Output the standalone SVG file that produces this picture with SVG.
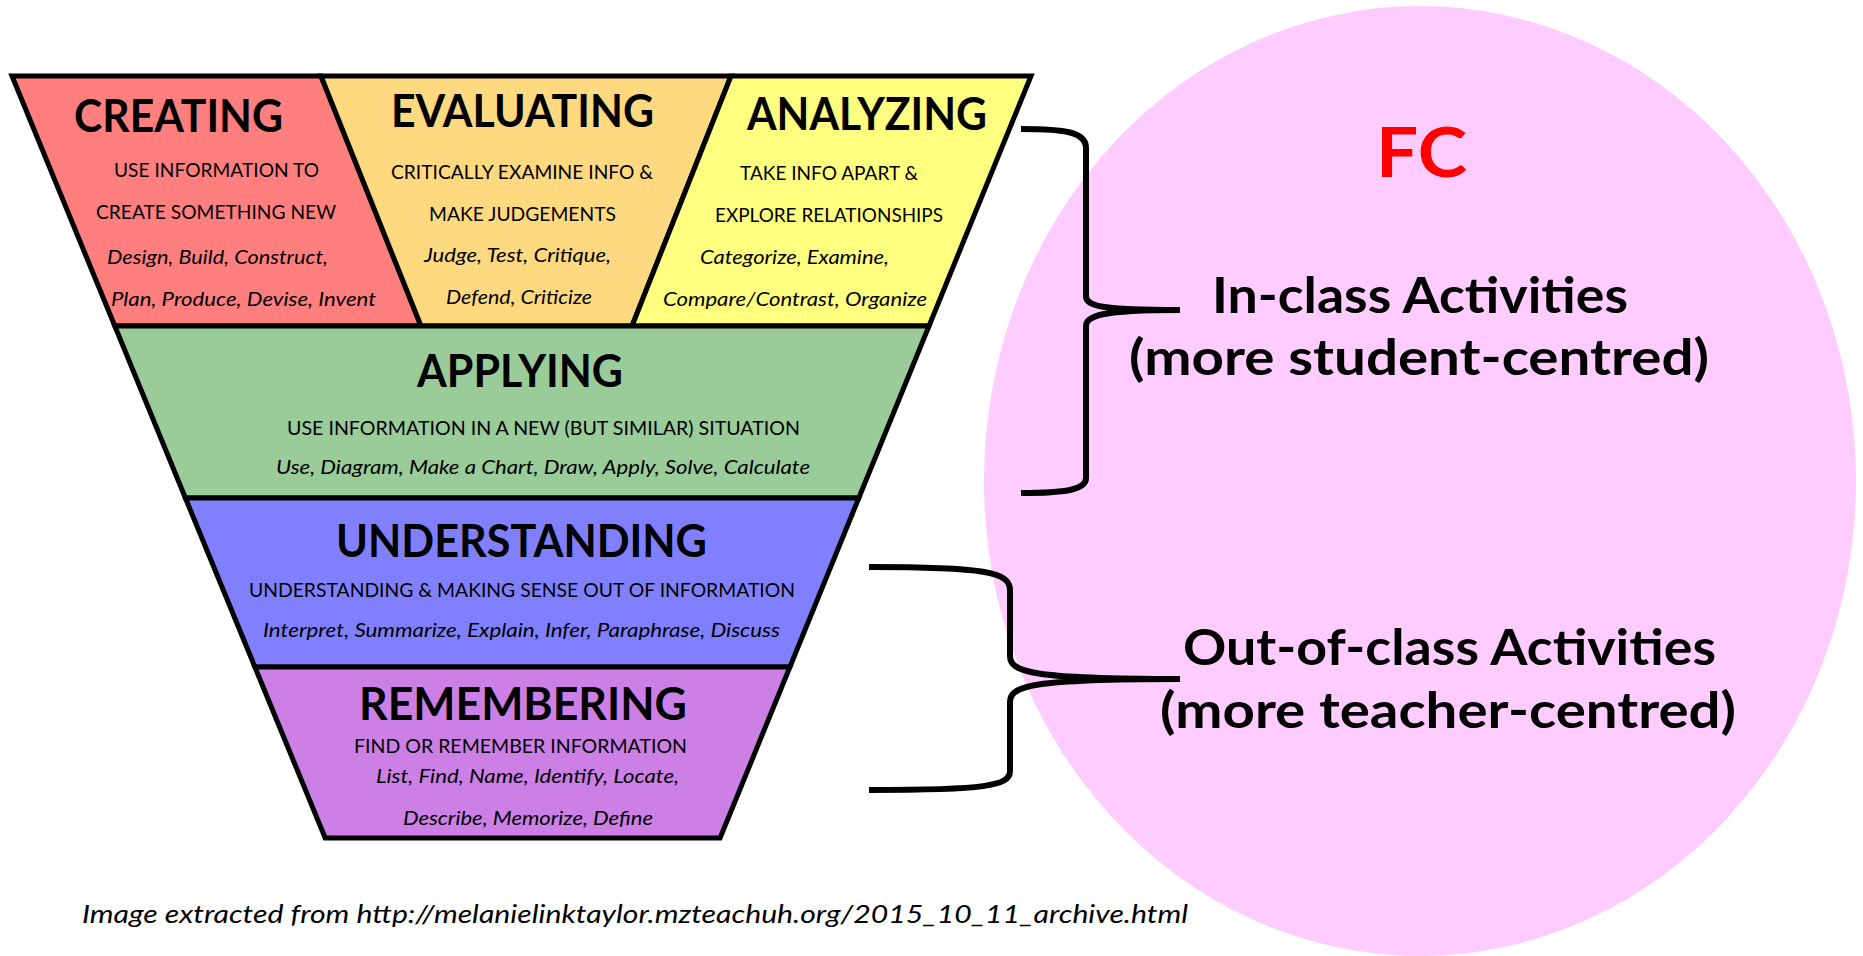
<svg xmlns="http://www.w3.org/2000/svg" width="1863" height="956" viewBox="0 0 1863 956">
<style>
.lvl{stroke:#000;stroke-width:5;stroke-linejoin:miter}
.t{font-family:Lato,"Open Sans","Liberation Sans",sans-serif;font-weight:700;font-size:46px;fill:#000}
.s{font-family:Lato,"Open Sans","Liberation Sans",sans-serif;font-weight:400;font-size:20px;fill:#000}
.i{font-family:Lato,"Open Sans","Liberation Sans",sans-serif;font-style:italic;font-weight:400;font-size:20px;fill:#000}
.r{font-family:Lato,"Open Sans","Liberation Sans",sans-serif;font-weight:700;font-size:50px;fill:#000}
.brace{fill:none;stroke:#000;stroke-width:6;stroke-linecap:butt;stroke-linejoin:round}
</style>
<rect width="1863" height="956" fill="#fff"/>
<ellipse id="fc-bg" cx="1420" cy="481" rx="436" ry="475" fill="#FFCCFF"/>

<g id="creating">
<polygon class="lvl" points="12,76 321,76 421,326 114.8,326" fill="#FF7F7F"/>
<text class="t" x="74" y="132" textLength="209" lengthAdjust="spacingAndGlyphs">CREATING</text>
<text class="s" x="114" y="177" textLength="205" lengthAdjust="spacingAndGlyphs">USE INFORMATION TO</text>
<text class="s" x="96" y="219" textLength="240" lengthAdjust="spacingAndGlyphs">CREATE SOMETHING NEW</text>
<text class="i" x="107" y="264" textLength="221" lengthAdjust="spacingAndGlyphs">Design, Build, Construct,</text>
<text class="i" x="111" y="306" textLength="265" lengthAdjust="spacingAndGlyphs">Plan, Produce, Devise, Invent</text>
</g>

<g id="evaluating">
<polygon class="lvl" points="321,76 731,76 632,326 421,326" fill="#FFD980"/>
<text class="t" x="391" y="127" textLength="263" lengthAdjust="spacingAndGlyphs">EVALUATING</text>
<text class="s" x="391" y="179" textLength="262" lengthAdjust="spacingAndGlyphs">CRITICALLY EXAMINE INFO &amp;</text>
<text class="s" x="429" y="221" textLength="187" lengthAdjust="spacingAndGlyphs">MAKE JUDGEMENTS</text>
<text class="i" x="424" y="262" textLength="187" lengthAdjust="spacingAndGlyphs">Judge, Test, Critique,</text>
<text class="i" x="446" y="304" textLength="146" lengthAdjust="spacingAndGlyphs">Defend, Criticize</text>
</g>

<g id="analyzing">
<polygon class="lvl" points="731,76 1031,76 929,326 632,326" fill="#FFFF80"/>
<text class="t" x="747" y="130" textLength="240" lengthAdjust="spacingAndGlyphs">ANALYZING</text>
<text class="s" x="740" y="180" textLength="178" lengthAdjust="spacingAndGlyphs">TAKE INFO APART &amp;</text>
<text class="s" x="715" y="222" textLength="228" lengthAdjust="spacingAndGlyphs">EXPLORE RELATIONSHIPS</text>
<text class="i" x="700" y="264" textLength="189" lengthAdjust="spacingAndGlyphs">Categorize, Examine,</text>
<text class="i" x="663" y="306" textLength="264" lengthAdjust="spacingAndGlyphs">Compare/Contrast, Organize</text>
</g>

<g id="applying">
<polygon class="lvl" points="114.8,326 929,326 858.8,498 185.4,498" fill="#99CC99"/>
<text class="t" x="417" y="387" textLength="206" lengthAdjust="spacingAndGlyphs">APPLYING</text>
<text class="s" x="287" y="435" textLength="513" lengthAdjust="spacingAndGlyphs">USE INFORMATION IN A NEW (BUT SIMILAR) SITUATION</text>
<text class="i" x="276" y="474" textLength="534" lengthAdjust="spacingAndGlyphs">Use, Diagram, Make a Chart, Draw, Apply, Solve, Calculate</text>
</g>

<g id="understanding">
<polygon class="lvl" points="185.4,498 858.8,498 789.9,667 254.9,667" fill="#8080FF"/>
<text class="t" x="336" y="557" textLength="371" lengthAdjust="spacingAndGlyphs">UNDERSTANDING</text>
<text class="s" x="249" y="597" textLength="546" lengthAdjust="spacingAndGlyphs">UNDERSTANDING &amp; MAKING SENSE OUT OF INFORMATION</text>
<text class="i" x="263" y="637" textLength="517" lengthAdjust="spacingAndGlyphs">Interpret, Summarize, Explain, Infer, Paraphrase, Discuss</text>
</g>

<g id="remembering">
<polygon class="lvl" points="254.9,667 789.9,667 720.1,838 325.2,838" fill="#CC80E6"/>
<text class="t" x="359" y="720" textLength="328" lengthAdjust="spacingAndGlyphs">REMEMBERING</text>
<text class="s" x="354" y="753" textLength="333" lengthAdjust="spacingAndGlyphs">FIND OR REMEMBER INFORMATION</text>
<text class="i" x="376" y="783" textLength="303" lengthAdjust="spacingAndGlyphs">List, Find, Name, Identify, Locate,</text>
<text class="i" x="403" y="825" textLength="250" lengthAdjust="spacingAndGlyphs">Describe, Memorize, Define</text>
</g>

<g id="connectors">
<path class="brace" d="M1021,129 C1065,129 1086,132 1086,148 L1086,296 C1086,306 1100,310 1180,310 M1180,310 C1100,310 1086,316 1086,326 L1086,478 C1086,490 1065,493 1021,493"/>
<path class="brace" d="M869,567 C985,567 1010,572 1010,590 L1010,656 C1010,672 1030,679 1180,679 M1180,679 C1030,679 1010,686 1010,702 L1010,771 C1010,786 985,790 869,790"/>
</g>

<g id="fc">
<text x="1376" y="177" textLength="91" lengthAdjust="spacingAndGlyphs" style="font-family:Lato,'Open Sans','Liberation Sans',sans-serif;font-weight:700;font-size:68px;fill:#FF0000">FC</text>
</g>
<g id="in-class">
<text class="r" x="1212" y="313" textLength="416" lengthAdjust="spacingAndGlyphs">In-class Activities</text>
<text class="r" x="1129" y="375" textLength="580" lengthAdjust="spacingAndGlyphs">(more student-centred)</text>
</g>
<g id="out-of-class">
<text class="r" x="1183" y="665" textLength="533" lengthAdjust="spacingAndGlyphs">Out-of-class Activities</text>
<text class="r" x="1160" y="728" textLength="576" lengthAdjust="spacingAndGlyphs">(more teacher-centred)</text>
</g>
<g id="caption">
<text x="82" y="923" textLength="1106" lengthAdjust="spacingAndGlyphs" style="font-family:Lato,'Open Sans','Liberation Sans',sans-serif;font-style:italic;font-size:25px;fill:#000">Image extracted from http://melanielinktaylor.mzteachuh.org/2015_10_11_archive.html</text>
</g>
</svg>
